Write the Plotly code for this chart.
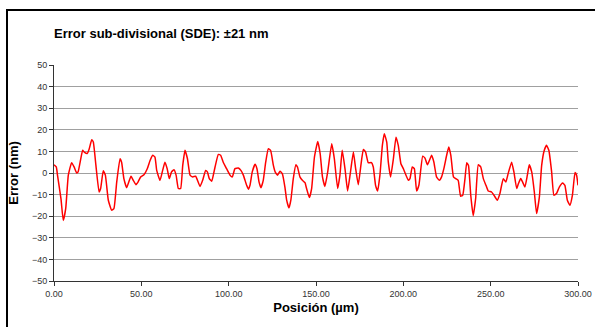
import plotly.graph_objects as go

# Position (µm) and sub-divisional error (nm)
position_um = [
    0.0, 1.3, 2.0, 4.0, 5.3, 6.7, 8.2, 10.1, 11.5, 13.0, 13.8, 16.4, 17.3, 19.0, 20.1, 21.6, 22.5,
    24.0, 25.8, 26.7, 28.2, 29.4, 31.1, 33.0, 34.3, 35.9, 37.8, 38.7, 40.0, 41.6, 42.8, 44.1, 45.4,
    46.9, 48.1, 49.6, 51.5, 53.4, 55.0, 56.5, 57.8, 58.8, 60.7, 62.0, 63.5, 64.8, 66.0, 67.3, 68.7,
    69.9, 71.2, 72.5, 73.7, 75.0, 76.4, 77.9, 79.4, 81.1, 83.6, 85.1, 86.8, 87.8, 88.9, 90.3, 92.2,
    94.1, 95.4, 96.9, 98.8, 100.8, 102.1, 103.6, 105.5, 107.0, 108.4, 110.3, 111.3, 112.2, 113.5,
    115.1, 116.2, 117.4, 118.5, 119.8, 121.2, 122.7, 124.0, 125.6, 126.6, 128.0, 129.4, 130.7,
    132.2, 133.2, 134.5, 135.6, 137.0, 138.5, 139.4, 140.8, 142.2, 143.7, 144.6, 146.2, 147.5,
    149.1, 151.0, 152.4, 153.7, 155.1, 156.7, 159.0, 160.5, 162.4, 163.7, 165.0, 166.6, 168.1,
    169.5, 171.4, 172.7, 174.2, 175.7, 177.1, 178.4, 179.9, 181.8, 182.8, 184.1, 185.3, 186.6,
    188.0, 189.1, 190.5, 191.4, 192.7, 194.3, 195.8, 197.1, 198.6, 200.0, 202.9, 203.8, 205.1,
    206.3, 207.6, 208.9, 211.1, 212.4, 213.8, 216.2, 217.5, 219.0, 220.6, 221.9, 223.2, 224.8,
    226.0, 227.2, 228.7, 230.0, 231.4, 232.8, 234.0, 235.3, 236.3, 237.3, 238.6, 240.0, 241.4,
    242.9, 244.3, 245.8, 247.3, 248.6, 250.5, 251.9, 253.8, 255.3, 257.2, 258.7, 260.0, 262.0,
    263.3, 264.9, 265.9, 267.2, 268.3, 269.6, 271.0, 272.1, 273.5, 275.0, 276.3, 277.9, 279.2,
    280.7, 282.0, 283.3, 284.9, 286.2, 287.7, 289.3, 291.2, 292.5, 293.9, 295.4, 296.8, 298.3,
    299.2, 300.0,
]
error_nm = [
    3.8, 2.8, -1.0, -12.0, -22.0, -16.5, -1.0, 4.8, 2.8, 0.0, 0.5, 10.5, 9.7, 9.0, 11.0, 15.4, 14.3,
    3.5, -8.8, -7.2, 1.0, -1.0, -12.6, -17.2, -16.5, -4.2, 6.6, 5.0, -2.6, -6.8, -4.2, -1.5, -3.4,
    -5.4, -4.2, -1.8, -0.8, 2.0, 5.8, 8.2, 7.4, 1.2, -3.4, 0.5, 5.0, 2.0, -2.6, 0.5, 1.5,
    -1.0, -7.2, -7.2, 3.5, 10.5, 6.6, -1.0, -1.8, -1.5, -6.2, -3.4, 1.2, 0.5, -2.6, -3.8, 2.8,
    8.6, 8.2, 5.0, 2.0, -1.0, -1.8, 2.0, 2.3, 1.2, -1.0, -5.7, -7.5, -5.7, 0.5,
    4.0, 2.0, -4.2, -6.8, -3.4, 5.0, 11.2, 10.5, 3.5, 0.5, -1.0, 0.8, -0.3,
    -6.5, -12.6, -16.2, -12.6, -2.6, 3.8, 2.8, -1.8, -3.4, -4.5, -7.2, -11.4, -7.2,
    7.4, 14.6, 8.9, -1.8, -6.2, 0.5, 13.5, 6.6, -7.2, -1.0, 10.5, 2.0, -8.3,
    -1.0, 9.7, 2.0, -5.4, 3.5, 10.9, 9.7, 4.8, 4.8, 2.8, -5.7, -8.3, -1.0,
    12.8, 18.2, 14.3, 5.0, -1.8, 6.6, 16.6, 12.8, 4.3, 2.0, -3.4, -2.6, 2.8,
    2.0, -8.3, -5.7, 7.8, 6.9, 3.8, 8.2, 5.0, -1.8, -3.4, -1.8, 2.0, 8.2,
    12.0, 8.2, -1.8, -2.6, -3.4, -10.8, -10.3, -2.6, 4.8, 3.5, -10.3, -19.8, -11.8,
    3.8, 2.8, -2.6, -5.7, -8.3, -8.8, -10.3, -12.6, -9.5, -2.6, -4.2, -0.3, 5.0,
    0.5, -7.2, -4.9, -2.6, -4.2, -6.5, -1.0, 3.8, 0.5, -8.8, -18.8, -11.0, 3.5,
    10.5, 12.8, 10.5, 0.5, -10.3, -9.5, -6.5, -4.6, -5.7, -12.6, -14.9, -10.3, 0.2,
    -1.0, -5.7,
]

y_ticks = [-50, -40, -30, -20, -10, 0, 10, 20, 30, 40, 50]
x_ticks = [0, 50, 100, 150, 200, 250, 300]

title_text = "Error sub-divisional (SDE): ±21 nm"
x_title = "Posición (µm)"
y_title = "Error (nm)"

W, H = 595, 327
L, R, T, B = 54, 17, 65, 46
pw, ph = W - L - R, H - T - B


def px_to_paper_x(px):
    return (px - L) / pw


def py_to_paper_y(py):
    return (H - B - py) / ph


fig = go.Figure()
fig.add_trace(go.Scatter(
    x=position_um, y=error_nm, mode="lines",
    line=dict(color="#ff0000", width=1.5, shape="spline", smoothing=0.4),
    showlegend=False, hoverinfo="x+y",
))

tick_font = dict(family="Liberation Sans, Arial, sans-serif", size=9, color="#333333")
title_font = dict(family="Liberation Sans, Arial, sans-serif", size=13, color="#000000")
axis_title_font = dict(family="Liberation Sans, Arial, sans-serif", size=13, color="#000000")

fig.update_layout(
    template="none",
    width=W, height=H, autosize=False,
    margin=dict(l=L, r=R, t=T, b=B, pad=0),
    paper_bgcolor="white", plot_bgcolor="white",
    showlegend=False,
    xaxis=dict(
        automargin=False,
        range=[0, 300], tickvals=x_ticks, tickformat=".2f",
        showgrid=False, zeroline=False,
        showline=True, linecolor="#333333", linewidth=1,
        ticks="outside", ticklen=4, tickcolor="#333333",
        tickfont=tick_font,
        title=dict(text=f"<b>{x_title}</b>", font=axis_title_font, standoff=5),
    ),
    yaxis=dict(
        automargin=False,
        range=[-50, 50], tickvals=y_ticks,
        showgrid=True, gridcolor="#a0a0a0", gridwidth=1,
        zeroline=False,
        showline=True, linecolor="#333333", linewidth=1,
        ticks="outside", ticklen=4, tickcolor="#333333",
        tickfont=tick_font,
        title=dict(text=f"<b>{y_title}</b>", font=axis_title_font, standoff=10),
    ),
    annotations=[
        dict(text=f"<b>{title_text}</b>", xref="paper", yref="paper",
             x=px_to_paper_x(52), y=py_to_paper_y(33), xanchor="left", yanchor="middle",
             showarrow=False, font=title_font),
    ],
    shapes=[
        dict(type="rect", xref="paper", yref="paper",
             x0=px_to_paper_x(7), x1=px_to_paper_x(603),
             y0=py_to_paper_y(340), y1=py_to_paper_y(10),
             line=dict(color="#000000", width=2), fillcolor="rgba(0,0,0,0)", layer="above"),
    ],
)

fig.write_html(
    "out.html",
    config={"displayModeBar": False},
    post_script="document.body.style.margin='0';document.body.style.overflow='hidden';",
)
